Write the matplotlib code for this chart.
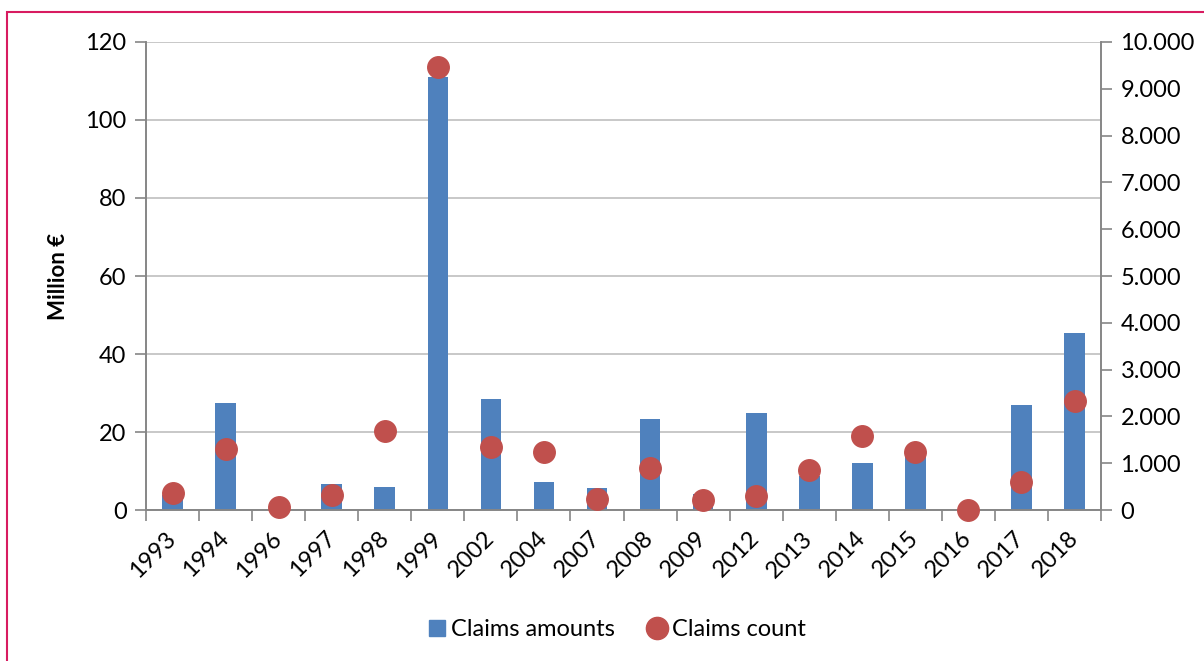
import matplotlib
matplotlib.use("Agg")
import matplotlib.pyplot as plt
from matplotlib.patches import Rectangle
from matplotlib.ticker import FuncFormatter
from matplotlib.lines import Line2D
import numpy as np

# data
years = ["1993", "1994", "1996", "1997", "1998", "1999", "2002", "2004", "2007",
         "2008", "2009", "2012", "2013", "2014", "2015", "2016", "2017", "2018"]
amounts = [3.8, 27.5, 0, 6.7, 5.9, 111, 28.5, 7.1, 5.6,
           23.3, 4.0, 25.0, 8.6, 12.0, 13.6, 0, 26.9, 45.4]
counts = [360, 1300, 70, 314, 1695, 9466, 1353, 1246, 228,
          891, 214, 299, 848, 1581, 1239, 0, 605, 2330]

plt.rcParams['font.family'] = ['Lato', 'DejaVu Sans']

bar_col = '#4F81BD'
dot_col = '#C0504D'
axis_col = '#868686'
fs = 17

fig = plt.figure(figsize=(12.04, 6.61), dpi=100)
ax = fig.add_axes([0.1213, 0.2284, 0.7932, 0.7081])
ax2 = ax.twinx()

x = np.arange(len(years))
ax.bar(x, amounts, width=0.39, color=bar_col, zorder=2)
ax2.scatter(x, counts, s=240, color=dot_col, zorder=3, clip_on=False)

ax.set_xlim(-0.5, len(years) - 0.5)
ax.set_ylim(0, 120)
ax2.set_ylim(0, 10000)
ax.set_yticks(range(0, 121, 20))
ax2.set_yticks(range(0, 10001, 1000))
ax2.yaxis.set_major_formatter(FuncFormatter(lambda v, p: f"{int(v):,}".replace(",", ".")))

ax.grid(axis='y', color='#BFBFBF', lw=1.2, zorder=0)
ax.set_axisbelow(True)

# x ticks at category boundaries, labels at centers
ax.set_xticks(np.arange(-0.5, len(years), 1))
ax.set_xticklabels([])
ax.set_xticks(x, minor=True)
ax.set_xticklabels(years, minor=True, rotation=45, ha='right', va='center',
                   rotation_mode='anchor', fontsize=fs)
ax.tick_params(axis='x', which='minor', length=0, pad=18)
ax.tick_params(axis='x', which='major', length=8, color=axis_col, width=1.2)
ax.tick_params(axis='y', length=8, color=axis_col, width=1.2, labelsize=fs, pad=6)
ax2.tick_params(axis='y', length=8, color=axis_col, width=1.2, labelsize=fs, pad=6)

for a in (ax, ax2):
    a.spines['top'].set_visible(False)
    for s in ['left', 'right', 'bottom']:
        a.spines[s].set_color(axis_col)
        a.spines[s].set_linewidth(1.2)

ax.set_ylabel('Million €', fontsize=16, fontweight='bold', labelpad=12)

handles = [Line2D([], [], marker='s', ls='', color=bar_col, markersize=11),
           Line2D([], [], marker='o', ls='', color=dot_col, markersize=16)]
fig.legend(handles, ['Claims amounts', 'Claims count'], loc='center',
           bbox_to_anchor=(0.51, 0.047), ncol=2, frameon=False, fontsize=fs,
           handletextpad=0.0, columnspacing=1.2, handlelength=1.2)

# pink frame around chart
fig.patches.append(Rectangle((7 / 1204, -0.05), 1.1, (661 - 12) / 661 + 0.05,
                             transform=fig.transFigure, fill=False,
                             edgecolor='#D81B60', lw=1.5))

fig.savefig('out.png', dpi=100)
